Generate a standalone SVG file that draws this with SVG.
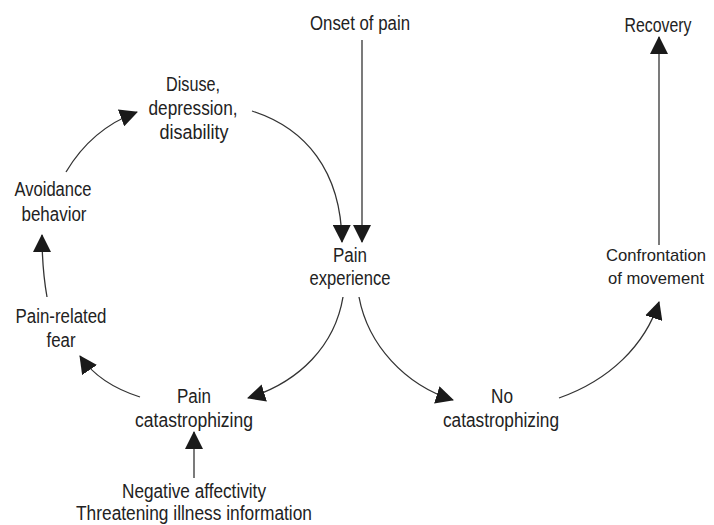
<svg xmlns="http://www.w3.org/2000/svg" width="714" height="525" viewBox="0 0 714 525">
<defs>
<marker id="ah" markerUnits="userSpaceOnUse" markerWidth="18" markerHeight="18" refX="17" refY="9" orient="auto">
<path d="M0,0 L18,9 L0,18 z" fill="#1a1a1a"/>
</marker>
<style>
text{font-family:"Liberation Sans",Arial,sans-serif;font-size:20px;fill:#222;text-anchor:middle}
.c{fill:none;stroke:#333;stroke-width:1.3;marker-end:url(#ah)}
</style>
</defs>
<rect width="714" height="525" fill="#fff"/>
<g id="connectors">
<path class="c" d="M362,40 L362,242"/>
<path class="c" d="M252,111 C305,128 341,170 342,242"/>
<path class="c" d="M66,172 C85,140 110,122 137,112"/>
<path class="c" d="M47,297 C44,280 42,265 42,235"/>
<path class="c" d="M140,397 C118,390 95,378 80,356"/>
<path class="c" d="M343,297 C335,345 300,382 248,398"/>
<path class="c" d="M359,297 C368,345 405,385 453,400"/>
<path class="c" d="M559,398 C610,380 645,345 659,302"/>
<path class="c" d="M659,245 L659,37"/>
<path class="c" d="M194,478 L194,432"/>
</g>
<g id="onset"><text x="360" y="30" textLength="100" lengthAdjust="spacingAndGlyphs">Onset of pain</text></g>
<g id="recovery"><text x="658" y="32" textLength="67" lengthAdjust="spacingAndGlyphs">Recovery</text></g>
<g id="disuse">
<text x="193" y="91" textLength="54" lengthAdjust="spacingAndGlyphs">Disuse,</text>
<text x="193" y="115" textLength="89" lengthAdjust="spacingAndGlyphs">depression,</text>
<text x="194" y="139" textLength="69" lengthAdjust="spacingAndGlyphs">disability</text>
</g>
<g id="avoidance">
<text x="53" y="196" textLength="77" lengthAdjust="spacingAndGlyphs">Avoidance</text>
<text x="54" y="221" textLength="65" lengthAdjust="spacingAndGlyphs">behavior</text>
</g>
<g id="painexp">
<text x="350" y="262" textLength="34" lengthAdjust="spacingAndGlyphs">Pain</text>
<text x="350" y="285" textLength="81" lengthAdjust="spacingAndGlyphs">experience</text>
</g>
<g id="fear">
<text x="61" y="323" textLength="91" lengthAdjust="spacingAndGlyphs">Pain-related</text>
<text x="61" y="347" textLength="29" lengthAdjust="spacingAndGlyphs">fear</text>
</g>
<g id="paincat">
<text x="194" y="403" textLength="34" lengthAdjust="spacingAndGlyphs">Pain</text>
<text x="194" y="427" textLength="118" lengthAdjust="spacingAndGlyphs">catastrophizing</text>
</g>
<g id="negative">
<text x="194" y="498" textLength="144" lengthAdjust="spacingAndGlyphs">Negative affectivity</text>
<text x="194" y="520" textLength="236" lengthAdjust="spacingAndGlyphs">Threatening illness information</text>
</g>
<g id="nocat">
<text x="502" y="403" textLength="22" lengthAdjust="spacingAndGlyphs">No</text>
<text x="501" y="427" textLength="116" lengthAdjust="spacingAndGlyphs">catastrophizing</text>
</g>
<g id="confront">
<text x="656" y="261" textLength="100" lengthAdjust="spacingAndGlyphs" style="font-size:17px">Confrontation</text>
<text x="656" y="284" textLength="96" lengthAdjust="spacingAndGlyphs" style="font-size:17px">of movement</text>
</g>
</svg>
